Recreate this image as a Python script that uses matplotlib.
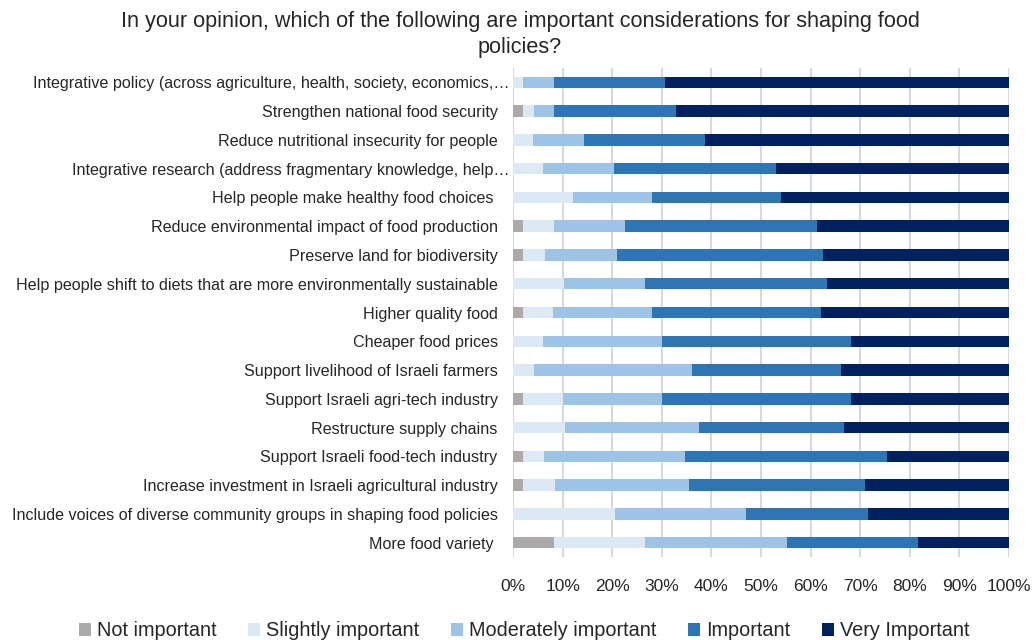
import matplotlib
matplotlib.use("Agg")
import matplotlib.pyplot as plt
import matplotlib.transforms as mtransforms
import numpy as np

categories = [
    "Integrative policy (across agriculture, health, society, economics,\u2026",
    "Strengthen national food security",
    "Reduce nutritional insecurity for people",
    "Integrative research (address fragmentary knowledge, help\u2026",
    "Help people make healthy food choices ",
    "Reduce environmental impact of food production",
    "Preserve land for biodiversity",
    "Help people shift to diets that are more environmentally sustainable",
    "Higher quality food",
    "Cheaper food prices",
    "Support livelihood of Israeli farmers",
    "Support Israeli agri-tech industry",
    "Restructure supply chains",
    "Support Israeli food-tech industry",
    "Increase investment in Israeli agricultural industry",
    "Include voices of diverse community groups in shaping food policies",
    "More food variety ",
]

not_important = [0, 2.1, 0, 0, 0, 2.1, 2.1, 0, 2.1, 0, 0, 2.1, 0, 2.1, 2.1, 0, 8.2]
slightly = [2.1, 2.1, 4.1, 6.1, 12.1, 6.1, 4.3, 10.2, 6.0, 6.1, 4.2, 8.0, 10.5, 4.1, 6.3, 20.5, 18.4]
moderately = [6.1, 4.1, 10.2, 14.3, 16.0, 14.3, 14.5, 16.4, 20.0, 24.0, 31.9, 20.0, 27.1, 28.5, 27.1, 26.5, 28.6]
important = [22.5, 24.5, 24.5, 32.7, 26.0, 38.8, 41.7, 36.7, 34.0, 38.0, 30.0, 38.0, 29.1, 40.8, 35.4, 24.5, 26.5]
very_important = [69.3, 67.2, 61.2, 46.9, 45.9, 38.7, 37.4, 36.7, 37.9, 31.9, 33.9, 31.9, 33.3, 24.5, 29.1, 28.5, 18.3]

series_names = ["Not important", "Slightly important", "Moderately important", "Important", "Very Important"]
colors = ["#ABA9A9", "#DDE8F5", "#9DC3E6", "#2E75B6", "#002060"]

plt.rcParams['font.family'] = ['Liberation Sans', 'DejaVu Sans']

fig = plt.figure(figsize=(10.35, 6.4), dpi=100)
ax = fig.add_axes([513/1035, 1 - 557/640, (1009 - 513)/1035, (557 - 68)/640])

data = [not_important, slightly, moderately, important, very_important]
y = np.arange(len(categories))
left = np.zeros(len(categories))
for vals, name, c in zip(data, series_names, colors):
    v = np.array(vals, dtype=float)
    ax.barh(y, v, left=left, height=0.40, color=c, label=name, zorder=3)
    left += v

ax.set_xlim(0, 100)
ax.set_ylim(len(categories) - 0.5, -0.5)
ax.set_yticks(y)
ax.set_yticklabels(categories, fontsize=11.6, color="#262626")
xt = np.arange(0, 101, 10)
ax.set_xticks(xt)
ax.set_xticklabels([f"{t}%" for t in xt], fontsize=12.5, color="#262626")
ax.tick_params(axis='both', length=0)
ax.tick_params(axis='x', pad=16)
ax.tick_params(axis='y', pad=11)
ax.grid(axis='x', color="#D9D9D9", linewidth=1.5, zorder=0)
for s in ax.spines.values():
    s.set_visible(False)

# truncated labels sit slightly further right, as in the reference
shift = mtransforms.ScaledTranslation(12/100, 0, fig.dpi_scale_trans)
for lbl in ax.get_yticklabels():
    if lbl.get_text().endswith("\u2026"):
        lbl.set_transform(lbl.get_transform() + shift)

fig.text(520/1035, 1 - 22/640, "In your opinion, which of the following are important considerations for shaping food",
         ha='center', va='center', fontsize=15.6, color="#262626")
fig.text(520/1035, 1 - 48/640, "policies?", ha='center', va='center', fontsize=15.6, color="#262626")

leg = fig.legend(loc='center', bbox_to_anchor=(524/1035, 1 - 631/640), ncol=5, frameon=False,
                 fontsize=14.3, handlelength=0.6, handleheight=0.6, columnspacing=1.6, handletextpad=0.3)
for t in leg.get_texts():
    t.set_color("#262626")

fig.savefig("out.png", dpi=100)
